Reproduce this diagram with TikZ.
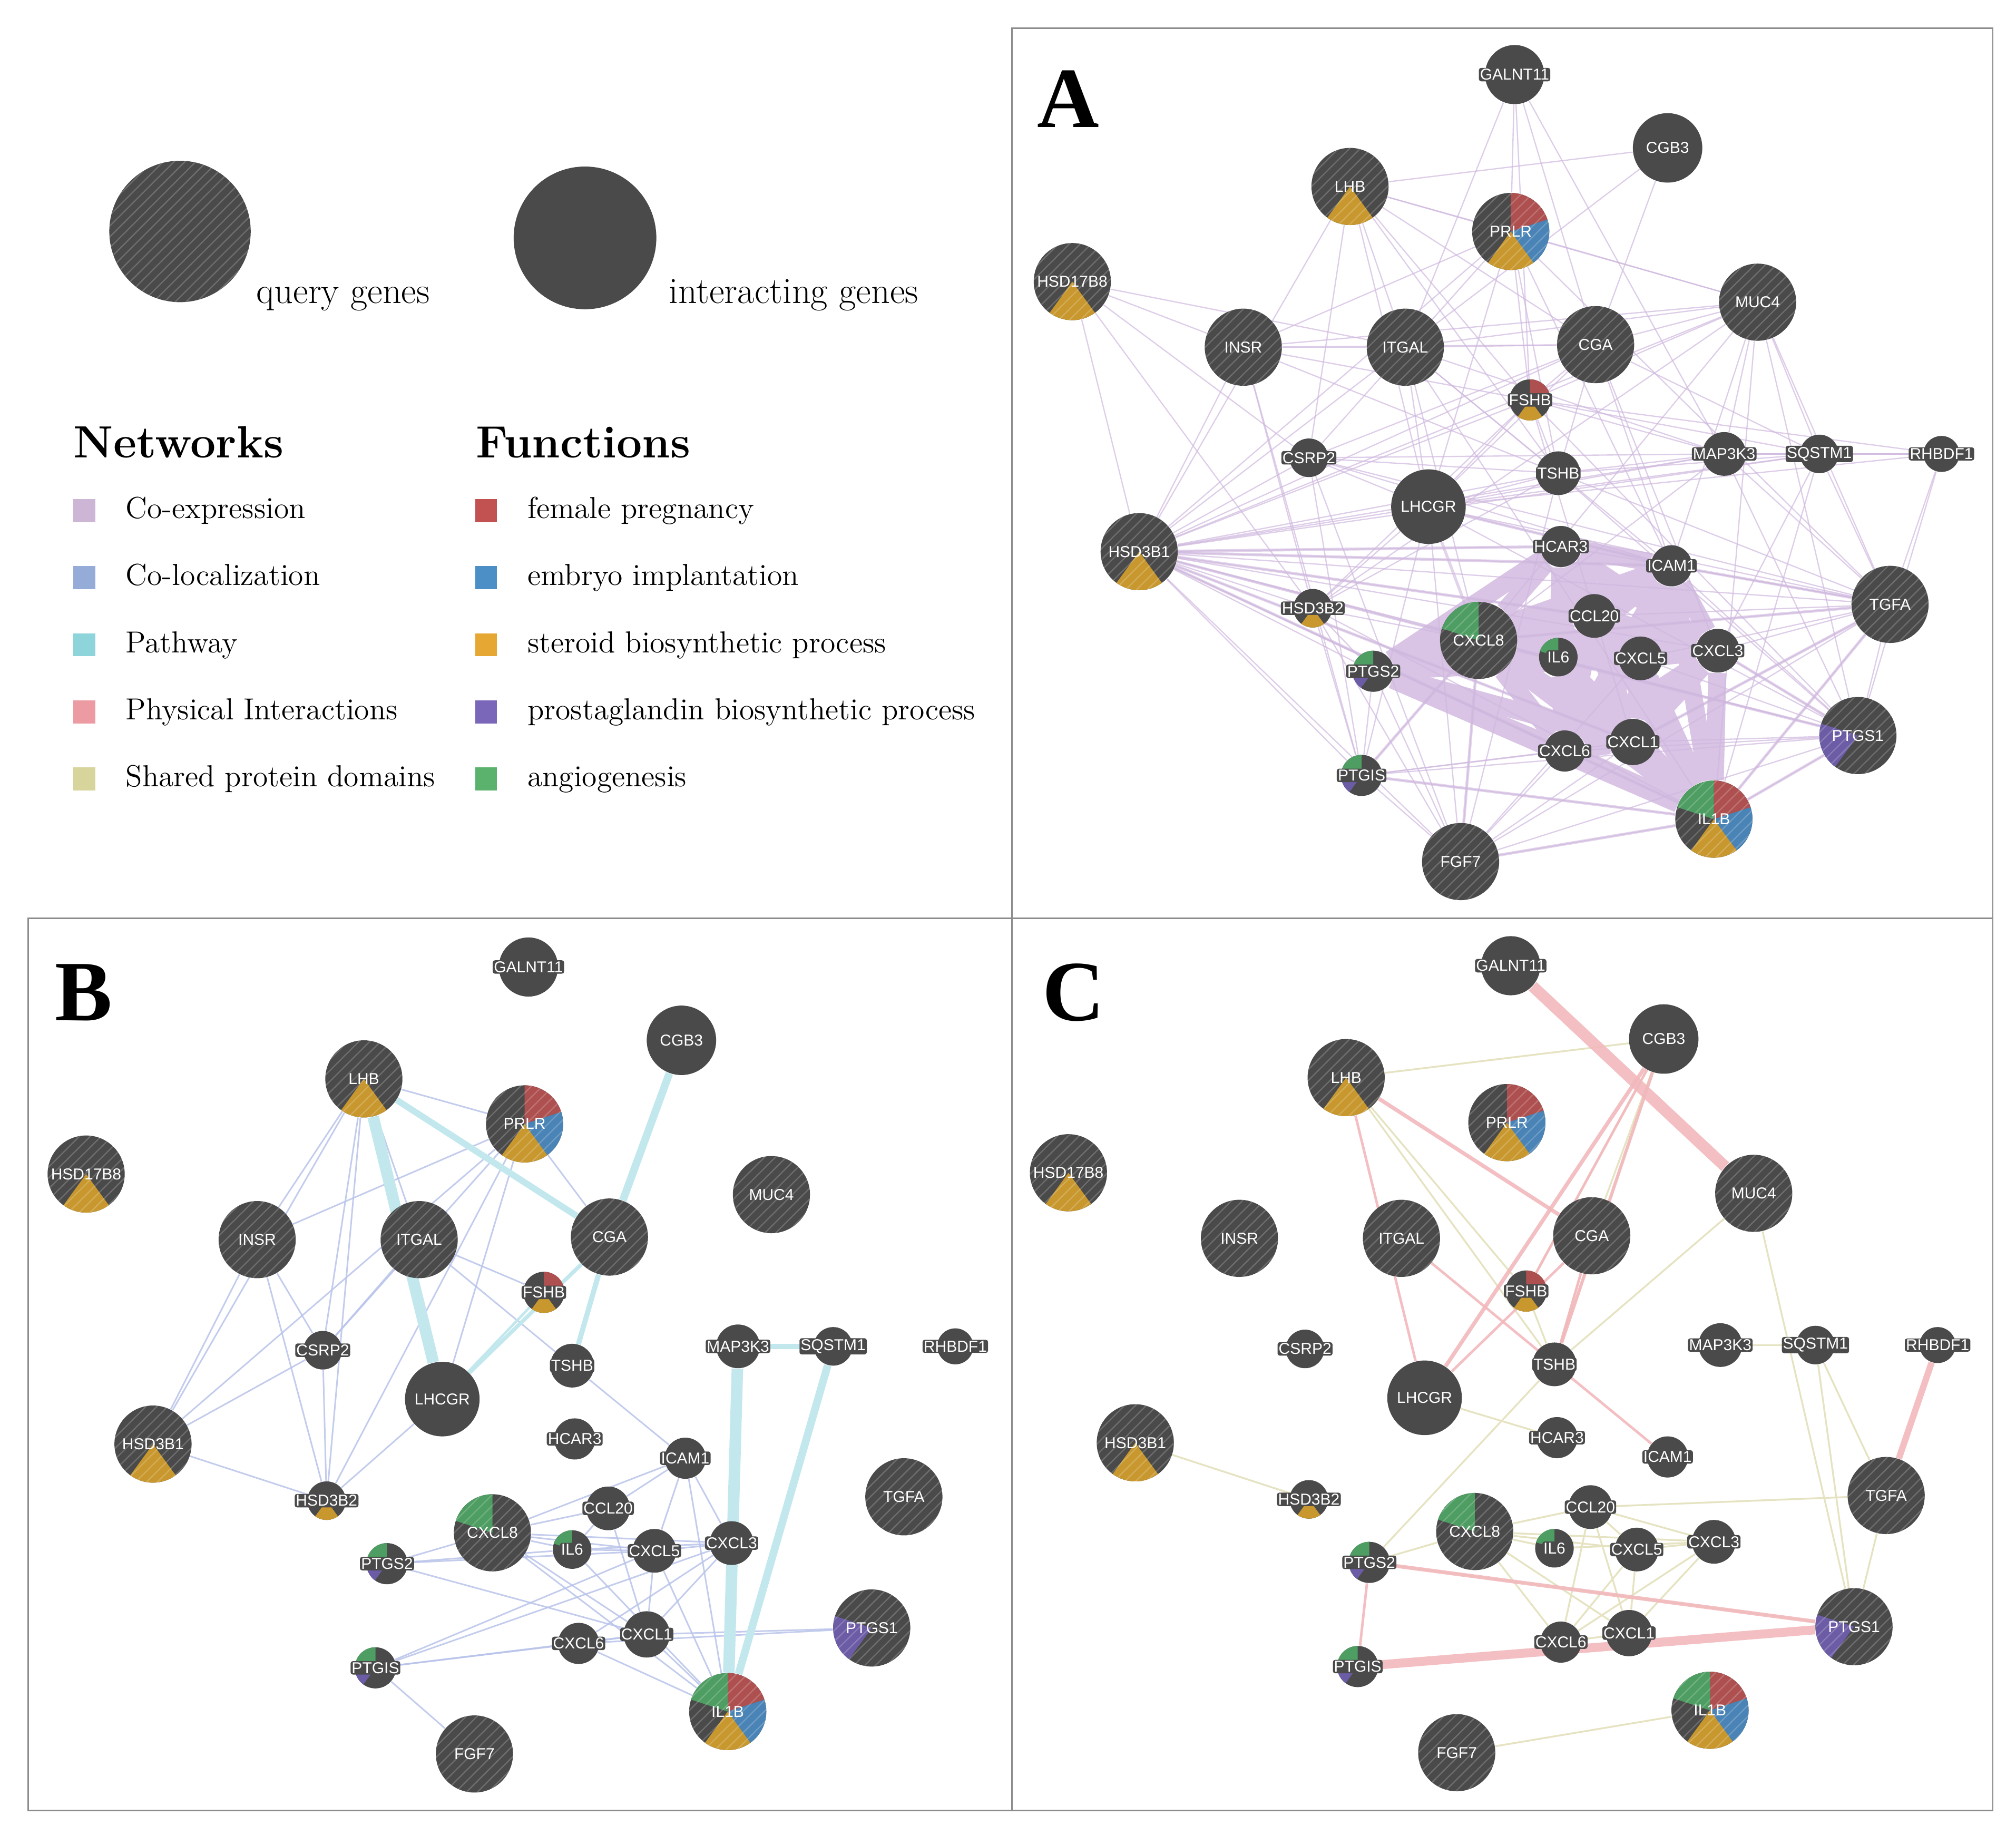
\documentclass[tikz,border=0pt]{standalone}
\usepackage{fontspec}
\newfontfamily\lblfont{Liberation Sans}
\newfontfamily\letfont{Liberation Serif}
\usetikzlibrary{patterns.meta}
\pgfdeclarelayer{edges}
\pgfsetlayers{edges,main}
\definecolor{ngray}{HTML}{4A4A4A}
\definecolor{pred}{HTML}{AE5050}
\definecolor{pblue}{HTML}{4A84B6}
\definecolor{porange}{HTML}{C8982F}
\definecolor{ppurple}{HTML}{6C5CA6}
\definecolor{pgreen}{HTML}{4E9D62}
\definecolor{lcoexp}{HTML}{CDB5D5}
\definecolor{lcoloc}{HTML}{96ACD8}
\definecolor{lpath}{HTML}{8ED4DB}
\definecolor{lphys}{HTML}{EC9BA3}
\definecolor{lshared}{HTML}{D7D49C}
\definecolor{lred}{HTML}{C25252}
\definecolor{lblue}{HTML}{4C8FC6}
\definecolor{lorange}{HTML}{E7A733}
\definecolor{lpurple}{HTML}{7B67B9}
\definecolor{lgreen}{HTML}{5BB26C}
\definecolor{ecoexp}{HTML}{CFB8DE}
\definecolor{ecoexpd}{HTML}{D9C4E5}
\definecolor{ecoloc}{HTML}{B8C3E9}
\definecolor{epath}{HTML}{C2E8EE}
\definecolor{ephys}{HTML}{F2B8BC}
\definecolor{eshared}{HTML}{E6E3C2}
\definecolor{panelc}{HTML}{8C8C8C}
\tikzset{
  gnode/.style={circle, inner sep=0pt, draw=none},
  glbl/.style={font=\lblfont\fontsize{7}{7}\selectfont, text=white, inner sep=0.5pt},
  glblbox/.style={glbl, fill=ngray, rounded corners=1pt},
  hatch/.style={pattern={Lines[angle=45,distance=3.4pt,line width=0.55pt]}, pattern color=white, opacity=0.2},
  coexp/.style={draw=ecoexp, line width=0.55pt, opacity=0.7},
  coexpmid/.style={draw=ecoexp, line width=1.3pt, opacity=0.6},
  coexpthick/.style={draw=ecoexpd, line width=8pt},
  coloc/.style={draw=ecoloc, line width=0.7pt, opacity=0.85},
  pathw/.style={draw=epath, line width=#1*0.567pt},
  phys/.style={draw=ephys, line width=#1*0.567pt, opacity=0.9},
  shared/.style={draw=eshared, line width=0.8pt},
  panelbox/.style={draw=panelc, line width=0.6pt},
  legsq/.style={minimum width=17*0.02cm, minimum height=18*0.02cm, inner sep=0pt, draw=none},
  legtxt/.style={anchor=base west, inner sep=0pt, font=\fontsize{13.45}{15}\selectfont},
  legbig/.style={anchor=base west, inner sep=0pt, font=\fontsize{16.4}{18}\selectfont},
  leghead/.style={anchor=base west, inner sep=0pt, font=\fontsize{20}{22}\selectfont\bfseries},
  letter/.style={inner sep=0pt, font=\letfont\bfseries\fontsize{38}{38}\selectfont}
}
\def\genelist{GALNT11/1178/58/23/0/0/0/0/0/0,
CGB3/1297/115/27/0/0/0/0/0/0,
LHB/1050/145/30/1/0/0/1/0/0,
PRLR/1175/180/30/1/1/1/1/0/0,
HSD17B8/834/219/30/1/0/0/1/0/0,
MUC4/1367/235/30/1/0/0/0/0/0,
INSR/967/270/30/1/0/0/0/0/0,
ITGAL/1093/270/30/1/0/0/0/0/0,
CGA/1241/268/30/1/0/0/0/0/0,
FSHB/1190/311/16/0/1/0/1/0/0,
CSRP2/1018/356/15/0/0/0/0/0/0,
TSHB/1212/368/17/0/0/0/0/0/0,
MAP3K3/1341/353/17/0/0/0/0/0/0,
SQSTM1/1415/353/15/0/0/0/0/0/0,
RHBDF1/1510/353/14/0/0/0/0/0/0,
LHCGR/1111/394/29/0/0/0/0/0/0,
HSD3B1/886/429/30/1/0/0/1/0/0,
HCAR3/1214/425/16/0/0/0/0/0/0,
ICAM1/1300/440/16/0/0/0/0/0/0,
TGFA/1470/470/30/1/0/0/0/0/0,
HSD3B2/1021/473/15/0/0/0/1/0/0,
CCL20/1240/479/17/0/0/0/0/0/0,
CXCL8/1150/498/30/1/0/0/0/0/1,
IL6/1212/511/15/0/0/0/0/0/1,
CXCL5/1276/512/17/0/0/0/0/0/0,
CXCL3/1336/506/17/0/0/0/0/0/0,
PTGS2/1068/522/16/0/0/0/0/1/1,
CXCL1/1270/577/18/0/0/0/0/0/0,
CXCL6/1217/584/16/0/0/0/0/0/0,
PTGS1/1445/572/30/1/0/0/0/1/0,
PTGIS/1059/603/16/0/0/0/0/1/1,
IL1B/1333/637/30/1/1/1/1/0/1,
FGF7/1136/670/30/1/0/0/0/0/0}
\newcommand\placegenes[3]{%
  \foreach \gn/\gx/\gy/\gr/\gq/\fa/\fb/\fc/\fd/\fe in \genelist {%
    \pgfmathsetmacro\px{\gx+(#2)}%
    \pgfmathsetmacro\py{\gy+(#3)}%
    \pgfmathsetmacro\rr{\gr*0.02}%
    \fill[ngray] (\px,\py) circle[radius=\rr cm];
    \ifnum\fa=1 \fill[pred] (\px,\py) -- ++(90:\rr cm) arc[start angle=90,end angle=18,radius=\rr cm] -- cycle;\fi
    \ifnum\fb=1 \fill[pblue] (\px,\py) -- ++(18:\rr cm) arc[start angle=18,end angle=-54,radius=\rr cm] -- cycle;\fi
    \ifnum\fc=1 \fill[porange] (\px,\py) -- ++(-54:\rr cm) arc[start angle=-54,end angle=-126,radius=\rr cm] -- cycle;\fi
    \ifnum\fd=1 \fill[ppurple] (\px,\py) -- ++(-126:\rr cm) arc[start angle=-126,end angle=-198,radius=\rr cm] -- cycle;\fi
    \ifnum\fe=1 \fill[pgreen] (\px,\py) -- ++(162:\rr cm) arc[start angle=162,end angle=90,radius=\rr cm] -- cycle;\fi
    \ifnum\gq=1 \fill[hatch] (\px,\py) circle[radius=\rr cm];\fi
    \node[gnode, minimum size=2*\rr cm] (#1\gn) at (\px,\py) {};
    \ifnum\gr<24
      \node[glblbox] (#1\gn-t) at (\px,\py) {\gn};
    \else
      \node[glbl] (#1\gn-t) at (\px,\py) {\gn};
    \fi
  }%
}
\begin{document}
\begin{tikzpicture}[x=0.02cm,y=-0.02cm]
\useasboundingbox (0,0) rectangle (1568,1427);
% panel frames
\draw[panelbox] (787,22) rectangle (1550,714);
\draw[panelbox] (22,714) rectangle (787,1408);
\draw[panelbox] (787,714) rectangle (1550,1408);
% panel letters
\node[letter] (letA) at (831,77) {A};
\node[letter] (letB) at (65,772) {B};
\node[letter] (letC) at (835,772) {C};
% legend
\fill[ngray] (140,180) circle[radius=1.1cm];
\fill[hatch] (140,180) circle[radius=1.1cm];
\node[gnode, minimum size=2.2cm] (legq) at (140,180) {};
\node[legbig] (legqt) at (199,236) {query genes};
\node[gnode, fill=ngray, minimum size=2.22cm] (legi) at (455,185) {};
\node[legbig] (legit) at (520,236) {interacting genes};
\node[leghead] (hnet) at (57,356) {Networks};
\node[leghead] (hfun) at (370,356) {Functions};
\foreach \i/\c/\t in {0/lcoexp/Co-expression,1/lcoloc/Co-localization,2/lpath/Pathway,3/lphys/Physical Interactions,4/lshared/Shared protein domains}{
  \node[legsq, fill=\c] (nsq\i) at (65.5,397+52.2*\i) {};
  \node[legtxt] (ntx\i) at (97.5,403+52.2*\i) {\t};
}
\foreach \i/\c/\t in {0/lred/female pregnancy,1/lblue/embryo implantation,2/lorange/steroid biosynthetic process,3/lpurple/prostaglandin biosynthetic process,4/lgreen/angiogenesis}{
  \node[legsq, fill=\c] (fsq\i) at (378,397+52.2*\i) {};
  \node[legtxt] (ftx\i) at (410,403+52.2*\i) {\t};
}
% genes
\placegenes{a}{0}{0}
\placegenes{b}{-767}{694}
\placegenes{c}{-3}{693}
\begin{pgfonlayer}{edges}
% ---------- Panel A: co-expression
\foreach \u [count=\i] in {PTGS2,CXCL8,IL6,CCL20,CXCL5,CXCL3,CXCL1,CXCL6,IL1B,HCAR3,ICAM1}{
  \foreach \v [count=\j] in {PTGS2,CXCL8,IL6,CCL20,CXCL5,CXCL3,CXCL1,CXCL6,IL1B,HCAR3,ICAM1}{
    \ifnum\j>\i \draw[coexpthick] (a\u) -- (a\v);\fi
  }
}
\foreach \u/\v in {HSD3B1/CXCL8,HSD3B1/IL1B,HSD3B1/CXCL1,HSD3B1/CCL20,HSD3B1/ICAM1,HSD3B1/HCAR3,
TGFA/CXCL8,TGFA/IL1B,TGFA/CXCL1,TGFA/ICAM1,PTGS1/CXCL8,PTGS1/IL1B,PTGS1/CXCL3,FGF7/IL1B,FGF7/CXCL8,
LHCGR/CXCL8,LHCGR/ICAM1,PTGIS/IL1B,PTGIS/CXCL8}{
  \draw[coexpmid] (a\u) -- (a\v);
}
\foreach \u/\v in {GALNT11/PRLR,GALNT11/ITGAL,GALNT11/CGA,GALNT11/MAP3K3,GALNT11/FSHB,
CGB3/LHB,CGB3/CGA,CGB3/ITGAL,
LHB/PRLR,LHB/HSD3B1,LHB/CSRP2,LHB/CGA,LHB/MUC4,LHB/TSHB,LHB/FSHB,LHB/ITGAL,LHB/LHCGR,
PRLR/MUC4,PRLR/TSHB,PRLR/LHCGR,PRLR/INSR,PRLR/CSRP2,PRLR/TGFA,PRLR/FSHB,PRLR/HSD3B1,PRLR/ICAM1,
HSD17B8/INSR,HSD17B8/HSD3B1,HSD17B8/CSRP2,HSD17B8/HSD3B2,HSD17B8/ITGAL,
INSR/HSD3B1,INSR/ITGAL,INSR/MUC4,INSR/FSHB,INSR/HSD3B2,INSR/PTGIS,INSR/TSHB,INSR/CGA,
ITGAL/MUC4,ITGAL/HSD3B1,ITGAL/CXCL8,ITGAL/ICAM1,ITGAL/TSHB,ITGAL/LHCGR,ITGAL/CGA,ITGAL/IL1B,ITGAL/MAP3K3,
CGA/MUC4,CGA/FSHB,CGA/HSD3B1,CGA/LHCGR,CGA/TSHB,CGA/ICAM1,CGA/CXCL3,CGA/CSRP2,CGA/SQSTM1,
MUC4/HSD3B1,MUC4/TGFA,MUC4/MAP3K3,MUC4/CXCL8,MUC4/SQSTM1,MUC4/HSD3B2,MUC4/ICAM1,MUC4/IL1B,MUC4/FSHB,MUC4/PTGS1,
FSHB/HSD3B1,FSHB/TSHB,FSHB/LHCGR,FSHB/MAP3K3,FSHB/RHBDF1,FSHB/SQSTM1,FSHB/CXCL1,FSHB/PTGS1,FSHB/HSD3B2,
CSRP2/HSD3B1,CSRP2/TSHB,CSRP2/LHCGR,CSRP2/FGF7,CSRP2/PTGIS,CSRP2/ICAM1,CSRP2/TGFA,CSRP2/MAP3K3,
TSHB/HSD3B1,TSHB/LHCGR,TSHB/MAP3K3,TSHB/TGFA,TSHB/HSD3B2,TSHB/FGF7,TSHB/PTGS1,TSHB/SQSTM1,
MAP3K3/SQSTM1,MAP3K3/RHBDF1,MAP3K3/TGFA,MAP3K3/HSD3B1,MAP3K3/PTGS1,MAP3K3/CXCL8,MAP3K3/LHCGR,
SQSTM1/RHBDF1,SQSTM1/TGFA,SQSTM1/CXCL3,SQSTM1/HSD3B1,SQSTM1/IL1B,SQSTM1/LHCGR,
RHBDF1/TGFA,RHBDF1/PTGS1,RHBDF1/LHCGR,
LHCGR/HSD3B1,LHCGR/HSD3B2,LHCGR/TGFA,LHCGR/PTGS1,LHCGR/ICAM1,LHCGR/FGF7,LHCGR/PTGIS,
HSD3B1/FGF7,HSD3B1/HSD3B2,HSD3B1/PTGS2,HSD3B1/PTGIS,HSD3B1/CXCL8,HSD3B1/ICAM1,HSD3B1/TGFA,HSD3B1/HCAR3,HSD3B1/IL1B,HSD3B1/CXCL1,HSD3B1/CXCL3,HSD3B1/PTGS1,HSD3B1/CCL20,HSD3B1/CXCL6,
TGFA/ICAM1,TGFA/CXCL3,TGFA/PTGS1,TGFA/IL1B,TGFA/CXCL5,TGFA/CXCL1,TGFA/CXCL8,TGFA/HCAR3,TGFA/FGF7,TGFA/CCL20,
HSD3B2/PTGS2,HSD3B2/PTGIS,HSD3B2/CXCL8,HSD3B2/FGF7,HSD3B2/IL1B,
PTGS1/IL1B,PTGS1/CXCL3,PTGS1/CXCL1,PTGS1/CXCL5,PTGS1/ICAM1,PTGS1/FGF7,PTGS1/CXCL8,PTGS1/PTGIS,PTGS1/CXCL6,
PTGIS/FGF7,PTGIS/IL1B,PTGIS/CXCL8,PTGIS/CXCL6,PTGIS/CXCL1,PTGIS/PTGS2,
FGF7/IL1B,FGF7/PTGS2,FGF7/CXCL8,FGF7/CXCL6,FGF7/CXCL1,FGF7/CXCL5}{
  \draw[coexp] (a\u) -- (a\v);
}
% ---------- Panel B: co-localization and pathway
\foreach \u/\v in {LHB/PRLR,LHB/CGA,LHB/INSR,LHB/HSD3B1,LHB/CSRP2,LHB/HSD3B2,LHB/ITGAL,
PRLR/INSR,PRLR/CSRP2,PRLR/HSD3B2,PRLR/CGA,PRLR/LHCGR,PRLR/HSD3B1,
INSR/HSD3B1,INSR/CSRP2,INSR/HSD3B2,
CSRP2/HSD3B1,CSRP2/HSD3B2,CSRP2/ITGAL,
ITGAL/FSHB,ITGAL/TSHB,HSD3B1/HSD3B2,LHCGR/HSD3B2,
TSHB/ICAM1,ICAM1/CCL20,ICAM1/CXCL8,ICAM1/CXCL3,ICAM1/IL1B,ICAM1/CXCL5,
CCL20/CXCL8,CCL20/IL6,CCL20/CXCL1,
CXCL8/IL6,CXCL8/CXCL5,CXCL8/CXCL3,CXCL8/PTGS2,CXCL8/IL1B,CXCL8/CXCL1,
IL6/CXCL5,IL6/CXCL3,IL6/IL1B,
CXCL5/CXCL3,CXCL5/CXCL1,CXCL5/PTGIS,CXCL5/IL1B,
PTGS2/IL6,PTGS2/CXCL1,PTGS2/CXCL5,
PTGIS/CXCL6,PTGIS/CXCL1,PTGIS/CXCL3,PTGIS/FGF7,
CXCL6/CXCL1,CXCL6/IL1B,CXCL6/CXCL3,
CXCL1/PTGS1,CXCL6/PTGS1,CXCL1/IL1B,CXCL3/IL1B,CXCL3/CXCL1}{
  \draw[coloc] (b\u) -- (b\v);
}
\foreach \u/\v/\w in {LHB/LHCGR/9,LHB/CGA/5,CGB3/CGA/6,CGA/TSHB/4,LHCGR/CGA/3,FSHB/LHCGR/2,
MAP3K3/SQSTM1/4,MAP3K3/IL1B/9,SQSTM1/IL1B/6}{
  \draw[pathw=\w] (b\u) -- (b\v);
}
% ---------- Panel C: physical interactions and shared protein domains
\foreach \u/\v in {LHB/CGB3,LHB/TSHB,LHB/FSHB,CGB3/TSHB,CGB3/FSHB,CGB3/CGA,FSHB/TSHB,CGA/TSHB,
LHCGR/HCAR3,TSHB/PTGS2,HSD3B1/HSD3B2,MUC4/TSHB,MUC4/PTGS1,MAP3K3/SQSTM1,SQSTM1/PTGS1,
SQSTM1/TGFA,TGFA/CCL20,TGFA/PTGS1,CXCL8/CXCL5,CXCL8/CXCL3,CXCL8/CCL20,CXCL8/IL6,CXCL8/CXCL1,
CXCL8/CXCL6,CCL20/CXCL5,CCL20/CXCL3,CCL20/CXCL6,CCL20/CXCL1,CXCL5/CXCL3,CXCL5/CXCL1,
CXCL5/CXCL6,CXCL3/CXCL1,CXCL3/CXCL6,CXCL1/CXCL6,PTGS2/CXCL8,PTGS2/PTGS1,IL1B/FGF7,IL6/CXCL3}{
  \draw[shared] (c\u) -- (c\v);
}
\foreach \u/\v/\w in {GALNT11/MUC4/9,CGB3/LHCGR/3,CGB3/TSHB/2.5,CGB3/FSHB/2,LHB/CGA/3,LHB/LHCGR/2,
ITGAL/ICAM1/2,CGA/LHCGR/2,CGA/TSHB/2,RHBDF1/TGFA/5,PTGS2/PTGIS/2,PTGIS/PTGS1/7,PTGS2/PTGS1/3}{
  \draw[phys=\w] (c\u) -- (c\v);
}
\end{pgfonlayer}
\end{tikzpicture}
\end{document}
